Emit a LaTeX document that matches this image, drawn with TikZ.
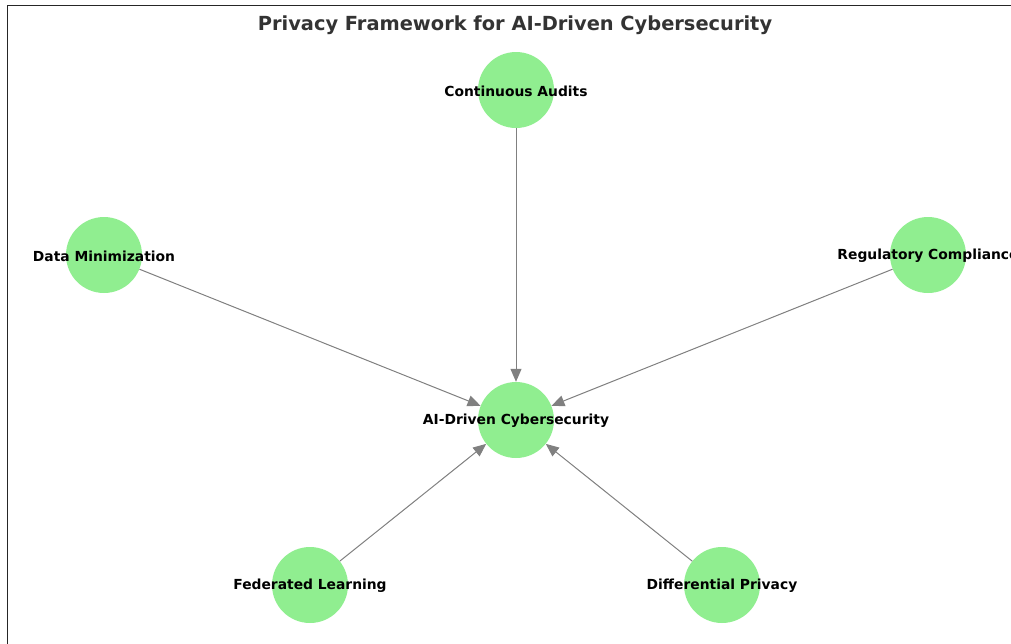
\documentclass[tikz,border=0pt]{standalone}
\usepackage{fontspec}
\setmainfont{DejaVu Sans}
\usetikzlibrary{arrows.meta}
\definecolor{nodegreen}{HTML}{90EE90}
\definecolor{edgegray}{HTML}{808080}
\definecolor{titlegray}{HTML}{333333}
\tikzset{
  concept/.style={circle, fill=nodegreen, draw=none, minimum size=76pt, inner sep=0pt},
  lbl/.style={font=\fontsize{13.85}{16}\selectfont\bfseries, text=black, inner sep=0pt, yshift=-1pt},
  link/.style={draw=edgegray, line width=1pt, -{Triangle[length=13pt,width=11pt]}}
}
\begin{document}
\begin{tikzpicture}[x=1pt,y=-1pt]
\useasboundingbox (0,0) rectangle (1011,643);
\draw[line width=1pt, draw=black!85] (7.5,5) rectangle (1030,660);
\node[font=\fontsize{19.4}{22}\selectfont\bfseries, text=titlegray, inner sep=0pt] (title) at (515,25) {Privacy Framework for AI-Driven Cybersecurity};
\node[concept] (ai) at (516,420) {};
\node[concept] (ca) at (516,90) {};
\node[concept] (dm) at (104,255) {};
\node[concept] (rc) at (928,255) {};
\node[concept] (fl) at (310,585) {};
\node[concept] (dp) at (722,585) {};
\draw[link] (ca) -- (ai);
\draw[link] (dm) -- (ai);
\draw[link] (rc) -- (ai);
\draw[link] (fl) -- (ai);
\draw[link] (dp) -- (ai);
\node[lbl] (ai-l) at (ai) {AI-Driven Cybersecurity};
\node[lbl] (ca-l) at (ca) {Continuous Audits};
\node[lbl] (dm-l) at (dm) {Data Minimization};
\node[lbl] (rc-l) at (rc) {Regulatory Compliance};
\node[lbl] (fl-l) at (fl) {Federated Learning};
\node[lbl] (dp-l) at (dp) {Differential Privacy};
\end{tikzpicture}
\end{document}
